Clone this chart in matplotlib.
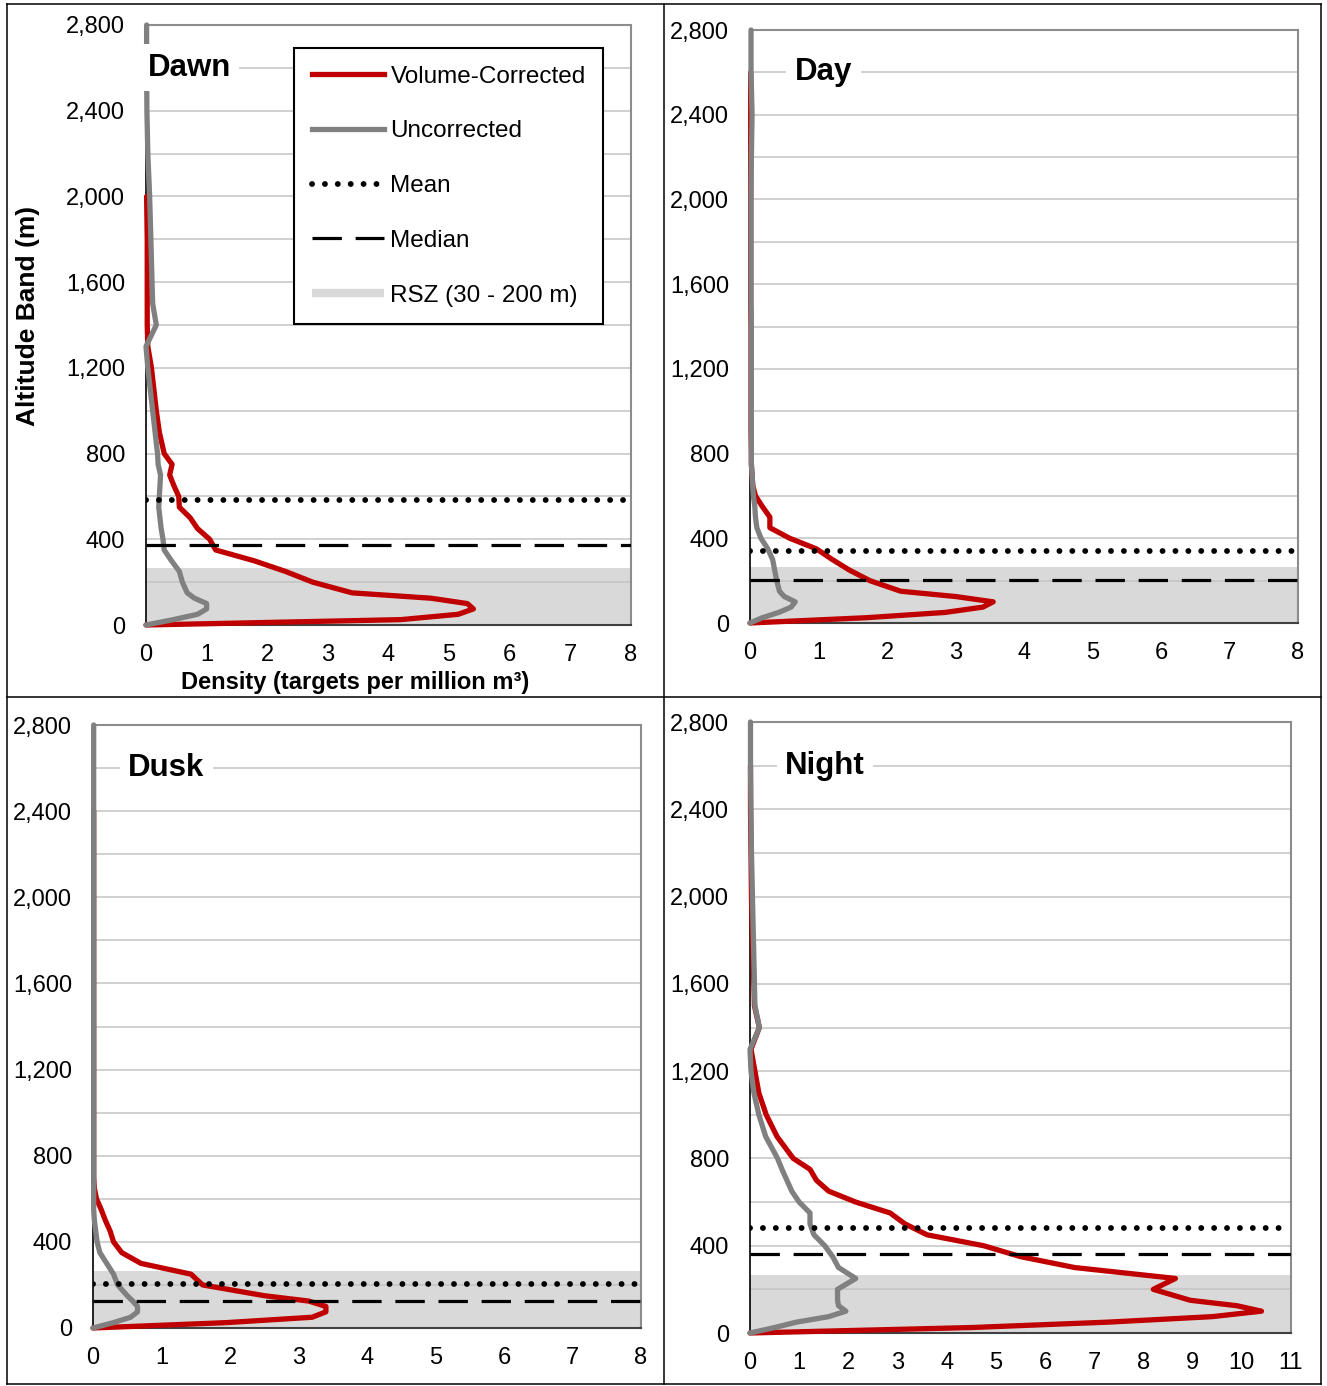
import numpy as np
import matplotlib.pyplot as plt
from matplotlib.lines import Line2D
from matplotlib.ticker import StrMethodFormatter, MultipleLocator
from matplotlib.transforms import blended_transform_factory

plt.rcParams['font.family'] = ['Liberation Sans', 'DejaVu Sans']

# altitude bands (m)
ALT = [0, 25, 50, 75, 100, 125, 150, 200, 250, 300, 350, 400, 450, 500, 550,
       600, 650, 700, 750, 800, 900, 1000, 1100, 1200, 1300, 1400, 1500, 1600,
       1800, 2000, 2200, 2400, 2600, 2800]

nan = np.nan
PANELS = ['Dawn', 'Day', 'Dusk', 'Night']

# density (targets per million m3), volume-corrected
dawn_corr = [0, 4.2, 5.15, 5.4, 5.3, 4.7, 3.4, 2.75, 2.3, 1.78, 1.15, 1.05, 0.85, 0.73, 0.55,
             0.54, 0.46, 0.39, 0.43, 0.3, 0.22, 0.17, 0.13, 0.09, 0.03, 0.02, 0.02, 0.02,
             0.02, 0.01, nan, nan, nan, nan]
day_corr = [0, 1.7, 2.85, 3.4, 3.55, 3.0, 2.2, 1.75, 1.45, 1.2, 0.97, 0.58, 0.29, 0.29, 0.18,
            0.08, 0.04, 0.03, 0.02, 0.02, 0.015, 0.015, 0.015, 0.015, 0.015, 0.015, 0.01, 0.01,
            0.01, 0.01, 0.01, 0.01, 0.01, nan]
dusk_corr = [0, 1.95, 3.2, 3.4, 3.4, 3.15, 2.5, 1.6, 1.43, 0.7, 0.42, 0.3, 0.25, 0.18, 0.12,
             0.05, 0.02, 0.01, 0.01, 0.01, 0.01, 0.01, 0.01, 0.01, 0.01, 0.01, 0.01, 0.01,
             0.01, 0.01, 0.01, 0.01, nan, nan]
night_corr = [0, 4.5, 7.3, 9.4, 10.4, 9.9, 8.95, 8.2, 8.65, 6.6, 5.5, 4.75, 3.6, 3.15, 2.85,
              2.15, 1.6, 1.35, 1.22, 0.88, 0.55, 0.33, 0.18, 0.1, 0.02, 0.19, 0.09, 0.08,
              0.05, 0.03, 0.02, 0.01, 0.01, nan]

# density, uncorrected
dawn_unc = [0, 0.45, 0.85, 1.0, 1.0, 0.8, 0.68, 0.6, 0.55, 0.42, 0.3, 0.28, 0.25, 0.23, 0.21,
            0.22, 0.23, 0.24, 0.2, 0.19, 0.15, 0.11, 0.07, 0.03, 0.0, 0.17, 0.11, 0.1,
            0.08, 0.06, 0.03, 0.015, 0.01, 0.01]
day_unc = [0, 0.18, 0.42, 0.6, 0.66, 0.5, 0.43, 0.39, 0.36, 0.33, 0.26, 0.16, 0.1, 0.08, 0.07,
           0.05, 0.04, 0.03, 0.02, 0.02, 0.02, 0.02, 0.02, 0.02, 0.02, 0.02, 0.015, 0.015,
           0.015, 0.015, 0.02, 0.03, 0.015, 0.015]
dusk_unc = [0, 0.3, 0.55, 0.65, 0.65, 0.58, 0.5, 0.36, 0.3, 0.2, 0.1, 0.06, 0.04, 0.02, 0.01,
            0.01, 0.01, 0.01, 0.01, 0.01, 0.01, 0.01, 0.01, 0.01, 0.01, 0.01, 0.01, 0.01,
            0.01, 0.01, 0.01, 0.01, 0.01, 0.01]
night_unc = [0, 0.5, 0.95, 1.6, 1.95, 1.8, 1.78, 1.78, 2.15, 1.8, 1.68, 1.52, 1.3, 1.22, 1.22,
             1.0, 0.85, 0.75, 0.65, 0.56, 0.32, 0.18, 0.08, 0.02, 0.0, 0.19, 0.1, 0.09,
             0.07, 0.05, 0.03, 0.02, 0.01, 0.01]

CORRECTED = [dawn_corr, day_corr, dusk_corr, night_corr]
UNCORRECTED = [dawn_unc, day_unc, dusk_unc, night_unc]
MEAN = [585, 340, 204, 482]
MEDIAN = [373, 205, 127, 362]
RSZ_TOP = 265
XMAX = [8, 8, 8, 11]

# layout (pixels)
W, H = 1327, 1386
AX_BOX = [(146, 25, 631, 625), (750, 30, 1298, 623),
          (93, 725, 641, 1328), (750, 722, 1291, 1333)]
TITLE_X = [0.003, 0.082, 0.064, 0.065]

RED = '#c00000'
GREY = '#808080'
BAND = '#d9d9d9'
FS = 17

fig = plt.figure(figsize=(W / 100, H / 100), dpi=100)


def box(l, t, r, b):
    return [l / W, 1 - b / H, (r - l) / W, (b - t) / H]


axes = []
for i, name in enumerate(PANELS):
    ax = fig.add_axes(box(*AX_BOX[i]))
    axes.append(ax)
    ax.axhspan(0, RSZ_TOP, color=BAND, lw=0, zorder=0)
    ax.plot(CORRECTED[i], ALT, color=RED, lw=3.8, solid_joinstyle='round',
            solid_capstyle='round', zorder=3, clip_on=False)
    ax.plot(UNCORRECTED[i], ALT, color=GREY, lw=3.8, solid_joinstyle='round',
            solid_capstyle='round', zorder=3, clip_on=False)
    ax.axhline(MEAN[i], color='black', lw=4.2, linestyle=(0, (0.01, 2.2)),
               dash_capstyle='round', zorder=4)
    ax.axhline(MEDIAN[i], color='black', lw=2.3, linestyle=(0, (9.2, 4.3)), zorder=4)

    ax.set_xlim(0, XMAX[i])
    ax.set_ylim(0, 2800)
    ax.set_xticks(range(0, XMAX[i] + 1))
    ax.yaxis.set_major_locator(MultipleLocator(400))
    ax.yaxis.set_minor_locator(MultipleLocator(200))
    ax.yaxis.set_major_formatter(StrMethodFormatter('{x:,.0f}'))
    ax.tick_params(axis='both', which='both', length=0, labelsize=FS)
    ax.tick_params(axis='y', pad=15)
    ax.tick_params(axis='x', pad=14)
    ax.set_axisbelow(True)
    ax.yaxis.grid(True, which='both', color='#c4c4c4', lw=1.1)

    for side in ('top', 'right'):
        ax.spines[side].set_color('#8c8c8c')
        ax.spines[side].set_linewidth(1.5)
    ax.spines['left'].set_color('black')
    ax.spines['left'].set_linewidth(1.2)
    ax.spines['bottom'].set_color('#404040')
    ax.spines['bottom'].set_linewidth(1.5)

    trans = blended_transform_factory(ax.transAxes, ax.transData)
    ax.text(TITLE_X[i], 2600, name, transform=trans, fontsize=22.5, fontweight='bold',
            ha='left', va='center', zorder=6,
            bbox=dict(facecolor='white', edgecolor='none', pad=6))

# legend on the Dawn panel
handles = [Line2D([], [], color=RED, lw=3.8),
           Line2D([], [], color=GREY, lw=3.8),
           Line2D([], [], color='black', lw=4.2, linestyle=(0, (0.01, 2.2)),
                  dash_capstyle='round'),
           Line2D([], [], color='black', lw=2.3, linestyle=(0, (9.2, 4.3))),
           Line2D([], [], color=BAND, lw=6, solid_capstyle='butt')]
labels = ['Volume-Corrected', 'Uncorrected', 'Mean', 'Median', 'RSZ (30 - 200 m)']
leg = axes[0].legend(handles, labels, loc='upper left',
                     bbox_to_anchor=(294 / W, 1 - 48 / H), bbox_transform=fig.transFigure,
                     fontsize=17.5, frameon=True, fancybox=False, framealpha=1,
                     edgecolor='black', handlelength=3.0, handletextpad=0.25,
                     labelspacing=1.35, borderpad=0.72, borderaxespad=0)
leg.get_frame().set_linewidth(1.5)
leg.set_zorder(10)

# axis titles (only on the Dawn panel)
fig.text(355 / W, 1 - 682 / H, 'Density (targets per million m³)', fontsize=FS,
         fontweight='bold', ha='center', va='center')
fig.text(28 / W, 1 - 316 / H, 'Altitude Band (m)', fontsize=19, fontweight='bold',
         rotation=90, ha='center', va='center')

# table borders
for (x0, y0, x1, y1) in [(7, 4, 1321, 4), (7, 1384, 1321, 1384), (7, 4, 7, 1384),
                         (1321, 4, 1321, 1384), (664, 4, 664, 1384), (7, 697, 1321, 697)]:
    fig.add_artist(Line2D([x0 / W, x1 / W], [1 - y0 / H, 1 - y1 / H],
                          transform=fig.transFigure, color='black', lw=1.1))

fig.savefig('out.png', dpi=100)
